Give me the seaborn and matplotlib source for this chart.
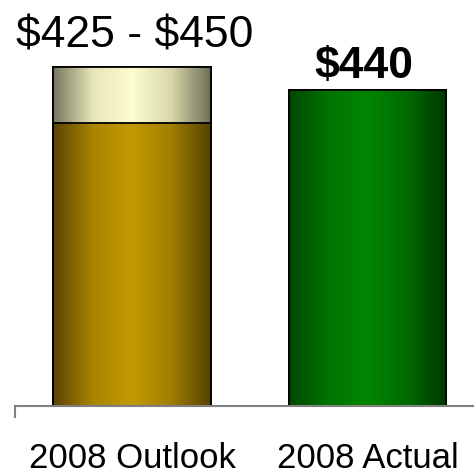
import numpy as np
import pandas as pd
import matplotlib
matplotlib.use("Agg")
import matplotlib.pyplot as plt
from matplotlib.colors import LinearSegmentedColormap
import seaborn as sns

# data
categories = ["2008 Outlook", "2008 Actual"]
top_values = [450, 440]          # full bar height (range high / actual)
base_values = [425]              # low end of outlook range
bar_labels = ["$425 - $450", "$440"]

sns.set_theme(style="white")
plt.rcParams["font.family"] = ["Liberation Sans", "DejaVu Sans"]
plt.rcParams["text.color"] = "black"

fig = plt.figure(figsize=(4.74, 4.74), dpi=100)
ax = fig.add_axes([15 / 474, 68 / 474, 459 / 474, 406 / 474])

top_df = pd.DataFrame({"cat": categories, "val": top_values})
base_df = pd.DataFrame({"cat": categories[:1], "val": base_values})

sns.barplot(data=top_df, x="cat", y="val", order=categories, width=0.67,
            color="white", edgecolor="black", linewidth=1.3, ax=ax)
sns.barplot(data=base_df, x="cat", y="val", order=categories, width=0.67,
            color="white", edgecolor="black", linewidth=1.3, ax=ax)

# horizontal gradient fills (dark edges, bright middle)
cream = LinearSegmentedColormap.from_list("cream", ["#76765e", "#e6e6b8", "#fdfdd2", "#d8d8ac", "#6e6e58"])
gold = LinearSegmentedColormap.from_list("gold", ["#5a4400", "#a88400", "#c49a00", "#a07e00", "#554200"])
green = LinearSegmentedColormap.from_list("green", ["#004800", "#007400", "#008600", "#006a00", "#003600"])
fills = [cream, green, gold]

grad = np.linspace(0, 1, 256).reshape(1, -1)
for patch, cmap in zip(ax.patches, fills):
    x0, y0 = patch.get_x(), 300
    x1, y1 = x0 + patch.get_width(), patch.get_y() + patch.get_height()
    im = ax.imshow(grad, cmap=cmap, aspect="auto", extent=[x0, x1, y0, y1],
                   interpolation="bicubic", zorder=patch.get_zorder() + 0.1)
    im.set_clip_path(patch)
    edge = plt.Rectangle((x0, patch.get_y()), patch.get_width(), patch.get_height(),
                         fill=False, edgecolor="black", linewidth=1.3,
                         zorder=patch.get_zorder() + 0.2)
    ax.add_patch(edge)

ax.set_xlim(-0.497, 1.452)
ax.set_ylim(300, 479.6)

ax.annotate(bar_labels[0], xy=(0, top_values[0]), xytext=(2, 14),
            textcoords="offset points", ha="center", va="baseline",
            fontsize=32, color="black", parse_math=False)
ax.annotate(bar_labels[1], xy=(1, top_values[1]), xytext=(-3, 8),
            textcoords="offset points", ha="center", va="baseline",
            fontsize=32, fontweight="bold", color="black", parse_math=False)

for side in ["top", "right", "left"]:
    ax.spines[side].set_visible(False)
ax.spines["bottom"].set_color("#808080")
ax.spines["bottom"].set_linewidth(1.5)
ax.spines["bottom"].set_zorder(10)

ax.set_yticks([])
ax.set_xlabel("")
ax.set_ylabel("")
ax.tick_params(axis="x", which="major", length=0, labelsize=25, pad=26, colors="black")
ax.set_xticks([-0.497], minor=True)
ax.tick_params(axis="x", which="minor", length=8.5, width=1.5, color="#808080", bottom=True)

fig.savefig("out.png", dpi=100)
